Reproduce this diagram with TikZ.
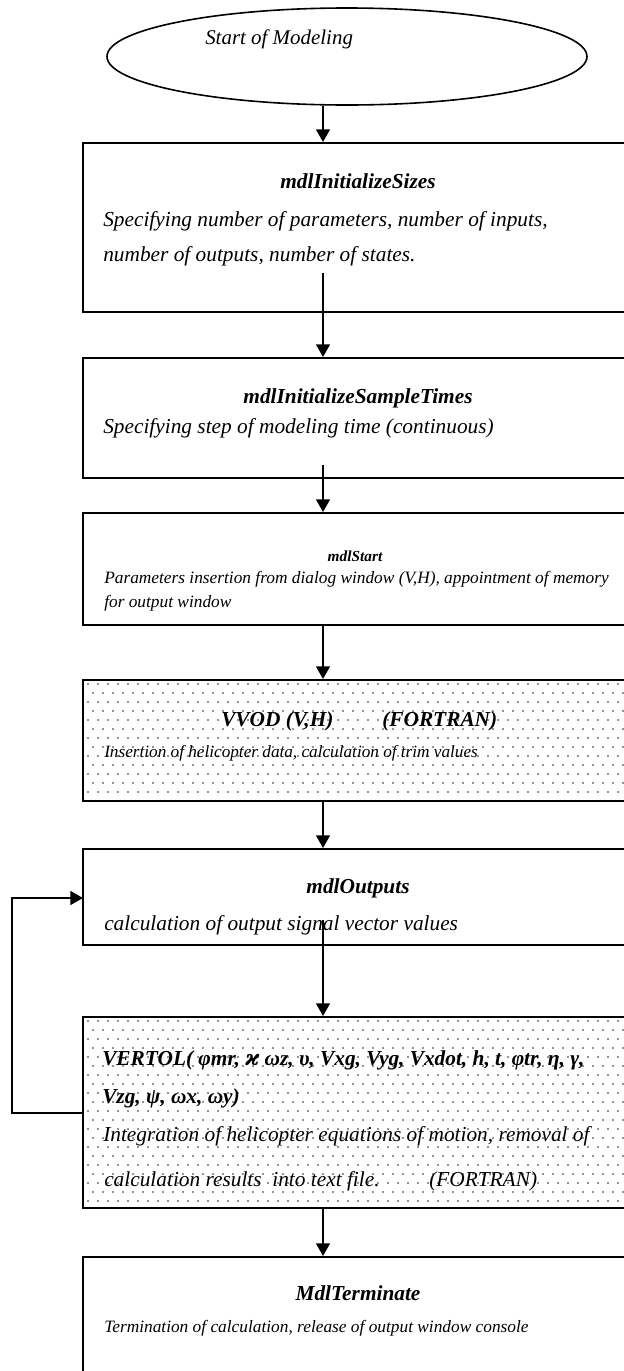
\documentclass[tikz,border=0pt]{standalone}
\usepackage{fontspec}
\setmainfont{Liberation Serif}
\newfontfamily\dvs{DejaVu Serif}
\usetikzlibrary{arrows.meta,shapes.geometric,fit}
\begin{document}
\begin{tikzpicture}[x=0.75pt,y=-0.75pt,
  box/.style={draw,line width=1.6pt,inner sep=0pt,rectangle},
  oval/.style={draw,ellipse,line width=1.2pt,inner sep=0pt,minimum width=360pt,minimum height=72.75pt},
  arr/.style={line width=1.2pt,-{Triangle[length=9.5pt,width=10.5pt]}},
  ttl/.style={anchor=base,inner sep=0pt,font=\fontsize{16}{19}\selectfont\bfseries\itshape},
  ttlw/.style={anchor=base west,inner sep=0pt,font=\fontsize{16}{19}\selectfont\bfseries\itshape},
  txt/.style={anchor=base west,inner sep=0pt,font=\fontsize{16}{19}\selectfont\itshape},
  dotc/.style={fill=black!85}
]
\useasboundingbox (0,0) rectangle (624,1371);
\clip (0,0) rectangle (624,1371);

% dotted backgrounds
\begin{scope}
\clip (83,680) rectangle (633,801);
\foreach \r in {0,...,13} {
  \pgfmathsetmacro\yy{684+9*\r}
  \pgfmathsetmacro\off{mod(\r,2)*5}
  \foreach \c in {0,...,55} \fill[dotc] ({88+\off+10*\c},\yy) circle (0.6pt);
}
\end{scope}
\begin{scope}
\clip (83,1017) rectangle (633,1208);
\foreach \r in {0,...,21} {
  \pgfmathsetmacro\yy{1021+9*\r}
  \pgfmathsetmacro\off{mod(\r,2)*5}
  \foreach \c in {0,...,55} \fill[dotc] ({88+\off+10*\c},\yy) circle (0.6pt);
}
\end{scope}

% shapes
\node[oval] (e) at (347,56.5) {};
\node[box,fit={(83,143) (633,312)}] (b1) {};
\node[box,fit={(83,358) (633,478)}] (b2) {};
\node[box,fit={(83,513) (633,625)}] (b3) {};
\node[box,fit={(83,680) (633,801)}] (b4) {};
\node[box,fit={(83,849) (633,945)}] (b5) {};
\node[box,fit={(83,1017) (633,1208)}] (b6) {};
\node[box,fit={(83,1257) (633,1420)}] (b7) {};

% texts
\node[anchor=base west,inner sep=0pt,font=\fontsize{15.7}{18}\selectfont\itshape] (t0) at (205,44) {Start of Modeling};

\node[ttl] (t1) at (358,188) {mdlInitializeSizes};
\node[txt] (t1a) at (103,226) {Specifying number of parameters, number of inputs,};
\node[txt] (t1b) at (103,261) {number of outputs, number of states.};

\node[ttl] (t2) at (358,403) {mdlInitializeSampleTimes};
\node[txt] (t2a) at (103,433) {Specifying step of modeling time (continuous)};

\node[ttl,font=\fontsize{11.5}{14}\selectfont\bfseries\itshape] (t3) at (355,561) {mdlStart};
\node[txt,font=\fontsize{13}{16}\selectfont\itshape] (t3a) at (104,583) {Parameters insertion from dialog window (V,H), appointment of memory};
\node[txt,font=\fontsize{13}{16}\selectfont\itshape] (t3b) at (104,607) {for output window};

\node[ttlw] (t4) at (221,726) {VVOD (V,H)};
\node[ttlw] (t4f) at (382,726) {(FORTRAN)};
\node[txt,font=\fontsize{12.9}{15}\selectfont\itshape] (t4a) at (104,757) {Insertion of helicopter data, calculation of trim values};

\node[ttl] (t5) at (358,893) {mdlOutputs};
\node[txt] (t5a) at (104,930) {calculation of output signal vector values};

\node[ttlw] (t6) at (102,1065) {VERTOL( φmr, {\dvs ϰ} ωz, υ, Vxg, Vyg, Vxdot, h, t, φtr, η, γ,};
\node[ttlw] (t6b) at (102,1103) {Vzg, ψ, ωx, ωy)};
\node[txt] (t6c) at (103,1141) {Integration of helicopter equations of motion, removal of};
\node[txt] (t6d) at (104,1186) {calculation results\ \ into text file.};
\node[txt] (t6f) at (429,1186) {(FORTRAN)};

\node[ttl] (t7) at (358,1300) {MdlTerminate};
\node[txt,font=\fontsize{13}{15}\selectfont\itshape] (t7a) at (104,1332) {Termination of calculation, release of output window console};

% connectors
\coordinate (ax) at (323,0);
\coordinate (s1) at (323,273);
\coordinate (s2) at (323,465);
\coordinate (s5) at (323,920);
\coordinate (lx) at (12,0);
\draw[arr] (e.south -| ax) -- (b1.north -| ax);
\draw[arr] (s1) -- (b2.north -| s1);
\draw[arr] (s2) -- (b3.north -| s2);
\draw[arr] (b3.south -| ax) -- (b4.north -| ax);
\draw[arr] (b4.south -| ax) -- (b5.north -| ax);
\draw[arr] (s5) -- (b6.north -| s5);
\draw[arr] (b6.south -| ax) -- (b7.north -| ax);
\coordinate (l1) at (83,1113);
\coordinate (l2) at (83,898);
\draw[arr] (l1) -- (l1 -| lx) -- (l2 -| lx) -- (l2);
\end{tikzpicture}
\end{document}
